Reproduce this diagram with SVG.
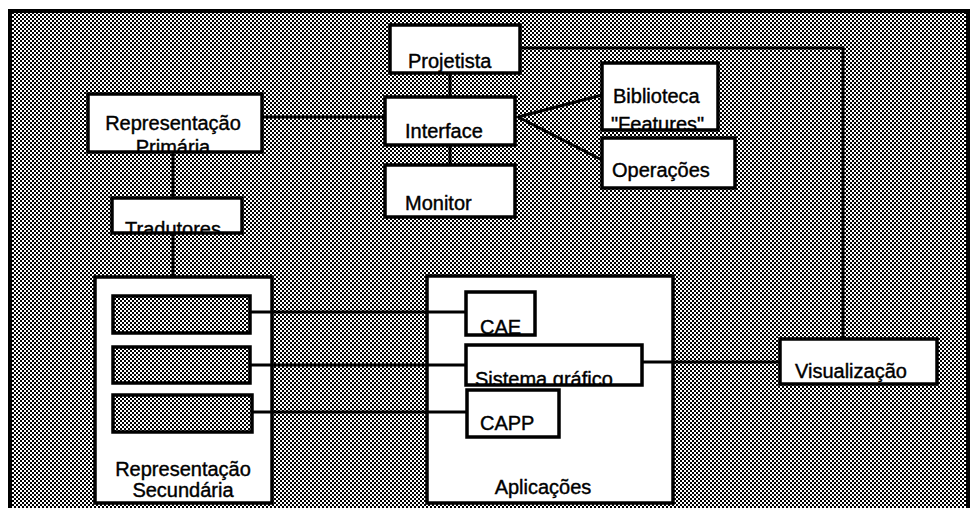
<svg xmlns="http://www.w3.org/2000/svg" width="971" height="508" viewBox="0 0 971 508">
<style>
.box{fill:#fff;stroke:#000;stroke-width:3.5}
.slot{fill:url(#ht);stroke:#000;stroke-width:3.5}
.ln{fill:none;stroke:#000;stroke-width:3}
text{font-family:"Liberation Sans",Arial,sans-serif;font-size:20px;fill:#000;stroke:#000;stroke-width:0.4}
.c{text-anchor:middle}
</style>
<defs>
<pattern id="ht" width="4" height="4" patternUnits="userSpaceOnUse">
<rect width="4" height="4" fill="#fff"/>
<rect width="2" height="2" fill="#000"/>
<rect x="2" y="2" width="2" height="2" fill="#000"/>
</pattern>
<clipPath id="cPrim"><rect x="88" y="94" width="174" height="57"/></clipPath>
<clipPath id="cTrad"><rect x="112" y="198" width="130" height="34"/></clipPath>
<clipPath id="cCAE"><rect x="466" y="292" width="69" height="42"/></clipPath>
<clipPath id="cSis"><rect x="466" y="345" width="176" height="39"/></clipPath>
<clipPath id="cBib"><rect x="602" y="63" width="116" height="66"/></clipPath>
</defs>
<rect x="10" y="11" width="958" height="510" fill="url(#ht)" stroke="#000" stroke-width="4"/>

<g id="rep-secundaria">
<rect class="box" x="95" y="277" width="177" height="226"/>
<text class="c" x="183" y="476">Representação</text>
<text class="c" x="183" y="497">Secundária</text>
</g>
<g id="aplicacoes">
<rect class="box" x="427" y="276" width="246" height="227"/>
<text class="c" x="543" y="494">Aplicações</text>
</g>

<g id="connectors">
<path class="ln" d="M450 73V97"/>
<path class="ln" d="M450 145V165"/>
<path class="ln" d="M262 117H385"/>
<path class="ln" d="M518 117L602 95"/>
<path class="ln" d="M518 117L602 160"/>
<path class="ln" d="M520 48H843V339"/>
<path class="ln" d="M173 152V198"/>
<path class="ln" d="M173 233V277"/>
<path class="ln" d="M250 312H466"/>
<path class="ln" d="M250 365H466"/>
<path class="ln" d="M252 412H467"/>
<path class="ln" d="M642 362H780"/>
</g>

<g id="projetista">
<rect class="box" x="390" y="25" width="130" height="48"/>
<text x="408" y="68">Projetista</text>
</g>
<g id="interface">
<rect class="box" x="385" y="97" width="130" height="48"/>
<text x="405" y="138">Interface</text>
</g>
<g id="monitor">
<rect class="box" x="385" y="165" width="130" height="52"/>
<text x="405" y="210">Monitor</text>
</g>
<g id="rep-primaria">
<rect class="box" x="88" y="94" width="174" height="58"/>
<g clip-path="url(#cPrim)">
<text class="c" x="173" y="130">Representação</text>
<text class="c" x="173" y="154">Primária</text>
</g>
</g>
<g id="tradutores">
<rect class="box" x="112" y="198" width="130" height="35"/>
<g clip-path="url(#cTrad)">
<text x="125" y="236">Tradutores</text>
</g>
</g>
<g id="biblioteca">
<rect class="box" x="602" y="63" width="116" height="67"/>
<g clip-path="url(#cBib)">
<text x="613" y="103">Biblioteca</text>
<text x="611" y="131">"Features"</text>
</g>
</g>
<g id="operacoes">
<rect class="box" x="602" y="138" width="133" height="50"/>
<text x="612" y="177">Operações</text>
</g>
<g id="slot1"><rect class="slot" x="113" y="296" width="137" height="37"/></g>
<g id="slot2"><rect class="slot" x="113" y="347" width="137" height="36"/></g>
<g id="slot3"><rect class="slot" x="113" y="395" width="139" height="37"/></g>
<g id="cae">
<rect class="box" x="466" y="292" width="69" height="43"/>
<g clip-path="url(#cCAE)"><text x="480" y="334">CAE</text></g>
</g>
<g id="sistema-grafico">
<rect class="box" x="466" y="345" width="176" height="40"/>
<g clip-path="url(#cSis)"><text x="475" y="386">Sistema gráfico</text></g>
</g>
<g id="capp">
<rect class="box" x="467" y="390" width="92" height="47"/>
<text x="480" y="430">CAPP</text>
</g>
<g id="visualizacao">
<rect class="box" x="780" y="339" width="157" height="45"/>
<text x="795" y="378">Visualização</text>
</g>
</svg>
